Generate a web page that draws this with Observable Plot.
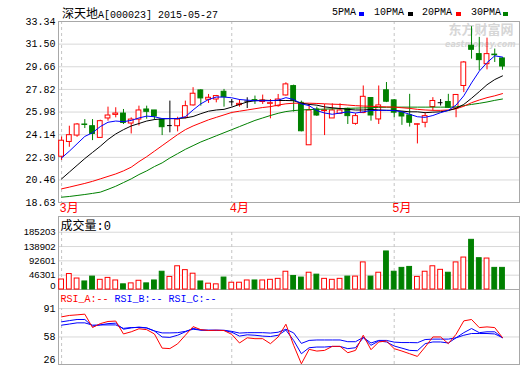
<!DOCTYPE html>
<html><head><meta charset="utf-8">
<script src="https://cdn.jsdelivr.net/npm/d3@7"></script>
<script src="https://cdn.jsdelivr.net/npm/@observablehq/plot@0.6"></script>
<style>
body{margin:0;background:#fff;}
#wrap{position:relative;width:520px;height:365px;overflow:hidden;background:#fff;font-family:"Liberation Mono","Noto Sans CJK SC",monospace;color:#000;}
.abs{position:absolute;white-space:nowrap;}
.t{font-size:10px;line-height:14px;top:6px;}
.cjk{font-family:"Noto Sans CJK SC",sans-serif;font-size:12px;line-height:14px;}
.sq{position:absolute;width:5px;height:4px;top:12px;}
</style></head><body>
<div id="wrap">
  <div id="main" class="abs" style="left:0;top:0"></div>
  <div id="vol" class="abs" style="left:0;top:215px"></div>
  <div id="rsi" class="abs" style="left:0;top:290px"></div>
  <div class="abs t" style="left:62px"><span class="cjk">深天地</span>A[000023] 2015-05-27</div>
  <div class="abs t" style="left:332px">5PMA</div><div class="sq" style="left:359px;background:#0000ff"></div>
  <div class="abs t" style="left:374px">10PMA</div><div class="sq" style="left:408px;background:#000000"></div>
  <div class="abs t" style="left:422px">20PMA</div><div class="sq" style="left:456px;background:#ff0000"></div>
  <div class="abs t" style="left:471px">30PMA</div><div class="sq" style="left:503px;background:#008000"></div>
</div>
<script>
// ---- data ----
const open  = [22.35,23.55,24.07,24.97,24.83,23.88,25.46,25.75,25.86,25.05,25.37,26.19,26.11,25.37,24.88,24.83,25.51,26.52,27.74,26.98,27.00,27.63,26.81,26.54,26.87,26.95,26.80,26.65,26.46,27.33,28.09,26.73,23.28,26.19,26.06,25.46,25.84,26.24,25.02,25.90,27.12,25.38,27.75,26.93,25.95,25.71,24.95,25.11,26.39,26.74,26.80,26.28,28.10,31.37,30.69,29.87,30.65,30.34];
const high  = [23.95,24.83,25.05,25.37,25.37,25.32,26.38,26.33,26.19,25.51,26.46,26.46,26.11,25.40,26.87,25.56,26.87,27.96,27.80,27.41,27.33,27.82,27.00,27.00,27.14,27.28,27.36,27.00,27.41,28.36,28.17,26.87,26.60,26.38,26.60,26.65,26.65,26.30,25.84,28.10,27.15,28.10,28.38,27.00,26.00,27.42,25.00,25.93,27.15,27.00,27.42,27.40,30.09,32.92,32.05,31.99,31.10,30.40];
const low   = [22.05,23.12,23.93,24.64,23.66,23.85,25.24,25.51,24.97,24.20,24.85,25.40,25.30,24.07,24.29,24.37,25.43,26.46,26.46,26.68,26.73,26.38,26.46,26.38,26.27,26.60,26.60,25.43,26.38,27.28,25.98,24.37,23.28,25.62,24.07,25.46,25.80,24.97,24.91,25.85,25.24,24.97,26.75,25.52,24.90,24.76,23.39,24.70,26.06,26.47,26.28,25.52,27.56,30.28,29.33,29.41,30.01,29.38];
const close = [23.65,24.10,24.97,24.93,24.20,25.24,25.70,25.86,25.10,25.37,26.11,26.00,25.62,24.75,24.88,25.37,26.46,27.47,27.09,27.14,27.28,27.19,26.81,26.65,26.87,26.90,26.92,26.70,27.00,28.23,26.92,24.42,26.11,25.70,26.11,26.11,26.11,25.65,25.65,27.22,25.70,26.52,26.82,25.93,25.62,25.11,24.99,25.65,26.88,26.74,26.33,27.37,30.01,31.04,30.20,30.69,30.60,29.68];
const volume = [32300,50000,35500,26000,41700,31300,37500,29200,16700,19800,28200,19800,29200,57400,40700,75100,62600,51100,26000,18800,16700,38600,21900,21900,29200,29200,29200,31300,34400,57400,43800,38600,54200,48000,34400,31300,34400,41700,41700,87600,41700,54200,123000,57400,69900,73000,40700,57400,75100,63600,54200,87600,103300,160600,101200,100100,69900,69900];
const ma5  = [22.25,22.8,23.4,24.0,24.3,24.8,25.15,25.25,25.2,25.3,25.5,25.65,25.6,25.45,25.45,25.45,25.6,26.15,26.65,27.0,27.2,27.2,27.14,27.0,26.95,26.9,26.9,26.9,26.95,27.15,27.0,26.65,26.5,26.1,25.9,25.8,25.9,26.0,25.9,26.0,26.1,26.12,26.12,26.1,26.0,25.8,25.6,25.55,25.7,25.93,26.12,26.55,27.3,28.35,29.3,30.0,30.55,30.45];
const ma10 = [20.55,21.1,21.65,22.2,22.7,23.2,23.75,24.2,24.55,24.85,25.05,25.25,25.37,25.43,25.45,25.45,25.5,25.62,25.85,26.05,26.15,26.2,26.38,26.6,26.8,26.9,26.95,26.92,26.92,26.92,26.9,26.7,26.6,26.54,26.4,26.33,26.27,26.2,26.15,26.15,26.2,26.15,26.12,26.12,26.06,26.0,26.0,25.93,25.97,26.0,26.1,26.28,26.6,27.1,27.64,28.2,28.62,28.92];
const ma20 = [19.74,19.88,20.03,20.18,20.35,20.55,20.75,20.95,21.2,21.5,21.95,22.35,22.8,23.25,23.7,24.15,24.55,24.85,25.1,25.35,25.55,25.75,25.95,26.05,26.15,26.25,26.35,26.42,26.55,26.65,26.7,26.7,26.7,26.68,26.65,26.62,26.6,26.55,26.5,26.47,26.45,26.42,26.4,26.38,26.33,26.28,26.2,26.15,26.12,26.12,26.15,26.25,26.45,26.74,26.96,27.15,27.3,27.48];
const ma30 = [19.06,19.12,19.2,19.28,19.37,19.47,19.7,19.95,20.25,20.55,20.9,21.2,21.55,21.85,22.25,22.6,22.95,23.25,23.55,23.8,24.05,24.3,24.55,24.8,25.05,25.3,25.5,25.7,25.88,26.02,26.1,26.15,26.18,26.2,26.22,26.24,26.26,26.28,26.3,26.32,26.34,26.36,26.37,26.38,26.38,26.38,26.38,26.38,26.38,26.38,26.38,26.4,26.5,26.6,26.69,26.8,26.93,27.04];
const rsiA = [81.4,83.0,83.7,84.5,69.0,73.5,76.0,76.5,61.5,64.0,67.5,66.5,61.5,45.0,44.5,50.0,60.0,70.0,66.5,65.5,65.8,65.5,61.0,51.0,57.0,56.0,56.0,50.2,58.0,72.8,48.3,26.8,43.6,41.6,42.4,47.1,47.1,39.7,42.4,60.0,43.2,52.2,53.3,44.4,41.6,38.5,35.4,46.3,58.0,58.0,50.2,61.1,76.7,78.3,68.9,69.7,68.9,57.2];
const rsiB = [75.6,77.0,78.3,78.3,70.5,72.0,73.5,74.0,67.0,68.5,69.5,68.5,65.0,58.0,57.5,60.0,64.0,68.0,66.0,65.8,65.8,65.5,63.5,59.0,60.5,60.0,59.0,58.5,60.0,66.0,54.0,38.5,45.5,46.3,46.3,47.0,47.0,44.4,45.5,57.2,48.3,53.3,52.2,47.5,45.0,42.4,42.0,50.2,52.2,52.2,51.0,57.0,63.0,67.8,63.0,64.0,64.0,57.2];
const rsiC = [71.7,73.0,74.4,74.4,71.7,72.0,72.0,72.0,68.0,69.0,69.0,68.5,65.0,62.7,62.7,63.0,64.5,67.0,66.0,65.8,65.8,65.8,64.5,62.5,63.0,63.0,63.0,62.5,63.5,67.0,62.7,50.5,54.0,54.5,54.5,54.5,54.5,52.5,52.5,57.5,51.0,54.0,54.0,52.0,51.5,51.5,51.3,55.0,55.5,55.5,55.5,57.0,60.0,62.0,62.0,62.0,61.5,57.2];
const priceTicks = [18.63,20.46,22.30,24.14,25.98,27.82,29.66,31.50,33.34];
const volumeTicks = [0,46301,92601,138902,185203];
const rsiTicks = [26,58,91];
const monthStarts = [0,22,43];
const monthLabels = ["3月","4月","5月"];

// ---- build ----
const rows = open.map((o,i)=>({i,o,h:high[i],l:low[i],c:close[i],v:volume[i],
  ma5:ma5[i],ma10:ma10[i],ma20:ma20[i],ma30:ma30[i],ra:rsiA[i],rb:rsiB[i],rc:rsiC[i]}));
rows.forEach(d=>d.dir = d.c>d.o ? "up" : d.c<d.o ? "down" : "flat");
const RED="#ff0000", GREEN="#008000", BLUE="#0000ff";
const col = d => d.dir==="up" ? RED : d.dir==="down" ? GREEN : "#000000";
const W = 0.31;
const xDomain = [-0.4, 59.2];
const FRAME="#a8a8a8", GRID="#d8d8d8", DASH="#c4c4c4";
const baseStyle = {fontFamily:"Liberation Mono, Noto Sans CJK SC, monospace",fontSize:"10px",background:"transparent",overflow:"visible",color:"#000"};
const months = monthStarts.map((m,k)=>({m,label:monthLabels[k]}));

const main = Plot.plot({
  width:520,height:215,marginTop:21,marginBottom:13,marginLeft:58,marginRight:1,
  style:baseStyle,
  x:{domain:xDomain,axis:null},
  y:{domain:[priceTicks[0],priceTicks[priceTicks.length-1]]},
  marks:[
    Plot.gridY(priceTicks,{stroke:GRID,strokeOpacity:1}),
    Plot.ruleX(monthStarts,{stroke:DASH,strokeDasharray:"3,3"}),
    Plot.text(["东方财富网"],{frameAnchor:"top-right",dx:-6,dy:8,textAnchor:"end",lineAnchor:"middle",fill:"#d6d6d6",fontSize:13,fontWeight:"bold",fontFamily:"Noto Sans CJK SC"}),
    Plot.text(["eastmoney.com"],{frameAnchor:"top-right",dx:-4,dy:23,textAnchor:"end",lineAnchor:"middle",fill:"#d6d6d6",fontSize:8,fontWeight:"bold",fontStyle:"italic",fontFamily:"DejaVu Sans"}),
    Plot.frame({stroke:FRAME}),
    Plot.axisY(priceTicks,{tickSize:0,tickPadding:3,tickFormat:".2f",label:null}),
    Plot.text(months,{x:"m",text:"label",frameAnchor:"bottom",lineAnchor:"top",dy:1,dx:-2,textAnchor:"start",fill:RED,fontSize:12}),
    Plot.ruleX(rows,{x:"i",y1:"l",y2:"h",stroke:col}),
    Plot.rect(rows.filter(d=>d.dir!=="flat"),{x1:d=>d.i-W,x2:d=>d.i+W,y1:"o",y2:"c",fill:d=>d.dir==="up"?"#ffffff":GREEN,stroke:col}),
    Plot.ruleY(rows.filter(d=>d.dir==="flat"),{x1:d=>d.i-W,x2:d=>d.i+W,y:"c",stroke:"#000000"}),
    Plot.line(rows,{x:"i",y:"ma30",stroke:GREEN,strokeWidth:1}),
    Plot.line(rows,{x:"i",y:"ma20",stroke:RED,strokeWidth:1}),
    Plot.line(rows,{x:"i",y:"ma10",stroke:"#000000",strokeWidth:1}),
    Plot.line(rows,{x:"i",y:"ma5",stroke:BLUE,strokeWidth:1})
  ]
});
document.getElementById("main").appendChild(main);

const volFont = {fontFamily:"Liberation Sans Narrow, Liberation Sans, sans-serif",fontSize:9.5};
const vol = Plot.plot({
  width:520,height:75,marginTop:1,marginBottom:1,marginLeft:58,marginRight:1,
  style:baseStyle,
  x:{domain:xDomain,axis:null},
  y:{domain:[0,236000]},
  marks:[
    Plot.gridY(volumeTicks.slice(1),{stroke:GRID,strokeOpacity:1}),
    Plot.ruleX(monthStarts,{y1:0,y2:volumeTicks[volumeTicks.length-1],stroke:DASH,strokeDasharray:"3,3"}),
    Plot.frame({stroke:FRAME}),
    Plot.axisY(volumeTicks.slice(1),{tickSize:0,tickPadding:3,tickFormat:d=>String(d),label:null,...volFont}),
    Plot.axisY(volumeTicks.slice(0,1),{tickSize:0,tickPadding:3,tickFormat:d=>String(d),label:null,dy:-3.5,...volFont}),
    Plot.rect(rows,{x1:d=>d.i-W,x2:d=>d.i+W,y1:0,y2:"v",fill:d=>d.dir==="down"?GREEN:"#ffffff",stroke:d=>d.dir==="down"?GREEN:RED}),
    Plot.text(["成交量:0"],{frameAnchor:"top-left",dx:2,dy:10,textAnchor:"start",lineAnchor:"middle",fontSize:12,fill:"#000"})
  ]
});
document.getElementById("vol").appendChild(vol);

const rsi = Plot.plot({
  width:520,height:75,marginTop:0,marginBottom:1,marginLeft:58,marginRight:1,
  style:baseStyle,
  x:{domain:xDomain,axis:null},
  y:{domain:[26,112]},
  marks:[
    Plot.gridY(rsiTicks.slice(1),{stroke:GRID,strokeOpacity:1}),
    Plot.ruleX(monthStarts,{y1:26,y2:91,stroke:DASH,strokeDasharray:"3,3"}),
    Plot.frame({anchor:"left",stroke:FRAME}),
    Plot.frame({anchor:"right",stroke:FRAME}),
    Plot.frame({anchor:"bottom",stroke:FRAME}),
    Plot.axisY(rsiTicks.slice(1),{tickSize:0,tickPadding:3,label:null}),
    Plot.axisY(rsiTicks.slice(0,1),{tickSize:0,tickPadding:3,label:null,dy:-4.5}),
    Plot.line(rows,{x:"i",y:"rc",stroke:BLUE,strokeWidth:1}),
    Plot.line(rows,{x:"i",y:"rb",stroke:BLUE,strokeWidth:1}),
    Plot.line(rows,{x:"i",y:"ra",stroke:RED,strokeWidth:1}),
    Plot.text(["RSI_A:--"],{frameAnchor:"top-left",dx:2,dy:8,textAnchor:"start",lineAnchor:"middle",fill:RED}),
    Plot.text(["RSI_B:--"],{frameAnchor:"top-left",dx:56,dy:8,textAnchor:"start",lineAnchor:"middle",fill:BLUE}),
    Plot.text(["RSI_C:--"],{frameAnchor:"top-left",dx:110,dy:8,textAnchor:"start",lineAnchor:"middle",fill:BLUE})
  ]
});
document.getElementById("rsi").appendChild(rsi);
</script>
</body></html>
